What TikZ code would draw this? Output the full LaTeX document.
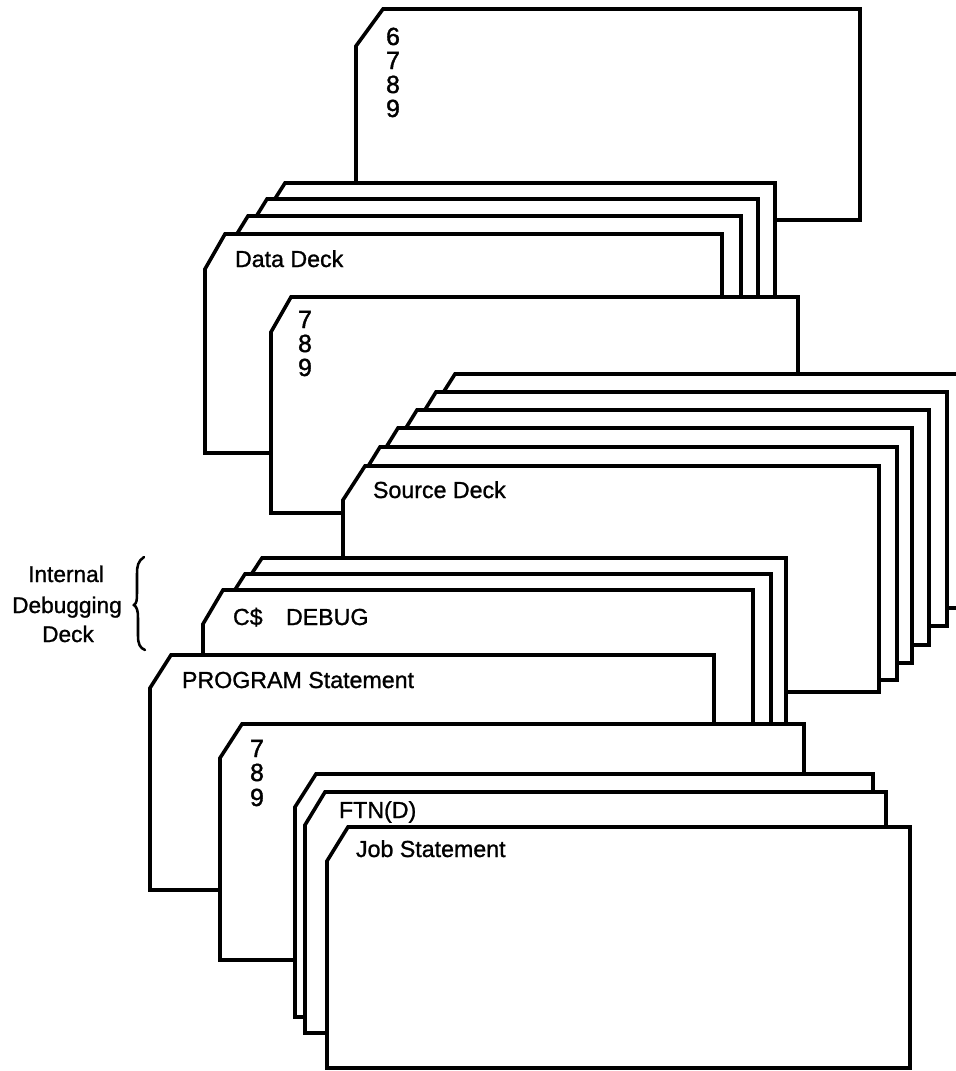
\documentclass[tikz,border=0pt]{standalone}
\usepackage{fontspec}
\setmainfont{Liberation Sans}
\newfontfamily\cardfont[FakeBold=1.1]{Liberation Sans}
\newfontfamily\digitfont[FakeBold=1.6]{Liberation Sans}
\newcommand{\cardshape}[6]{% left, corner x, cut y, top, right, bottom
  \filldraw[cardbox] (#1,#6) -- (#1,#3) -- (#2,#4) -- (#5,#4) -- (#5,#6) -- cycle;}
\tikzset{
  cardbox/.style={draw=black, fill=white, line width=2.7pt, line join=miter},
  cardtext/.style={anchor=base west, inner sep=0pt, outer sep=0pt, font=\cardfont\fontsize{17.4pt}{20pt}\selectfont, text=black},
  sidetext/.style={anchor=base, inner sep=0pt, outer sep=0pt, font=\cardfont\fontsize{17pt}{20pt}\selectfont, text=black},
  digit/.style={anchor=base, inner sep=0pt, outer sep=0pt, font=\digitfont\fontsize{18.6pt}{20pt}\selectfont, text=black},
}
\begin{document}
\begin{tikzpicture}[x=0.75pt,y=-0.75pt]
\path[use as bounding box] (0,0) rectangle (956,1071);
\clip (0,0) rectangle (956,1071);
% top job card
\cardshape{356}{383}{46}{9}{860}{220}
% data deck
\cardshape{264}{285}{216}{183}{775}{400}
\cardshape{246}{267}{233}{199}{758}{400}
\cardshape{227}{248}{250}{216}{741}{400}
\cardshape{205}{225}{269}{234}{722}{453}
\cardshape{271}{291}{332}{297}{798}{513}
% source deck
\cardshape{434}{455}{407}{374}{990}{608}
\cardshape{415}{436}{426}{392}{947}{626}
\cardshape{396}{417}{444}{410}{929}{645}
\cardshape{377}{398}{462}{428}{912}{663}
\cardshape{359}{380}{481}{447}{897}{680}
\cardshape{343}{365}{500}{466}{879}{692}
% debugging deck
\cardshape{241}{262}{590}{558}{786}{740}
\cardshape{224}{245}{607}{574}{771}{740}
\cardshape{203}{223}{624}{590}{753}{740}
\cardshape{150}{171}{688}{655}{714}{890}
\cardshape{220}{242}{758}{724}{804}{960}
\cardshape{295}{316}{807}{774}{873}{1017}
\cardshape{305}{325}{825}{792}{886}{1033}
\cardshape{327}{348}{861}{827}{910}{1068}
% brace
\draw[line width=1.9pt, line cap=round] (144,557)
  .. controls (138,561) and (137,566) .. (137,574)
  -- (137,592)
  .. controls (137,599) and (137,603) .. (134,605)
  .. controls (137,607) and (138,611) .. (138,618)
  -- (138,636)
  .. controls (138,644) and (140,648) .. (145,650);
% texts
\node[digit] (d6) at (393,45) {6};
\node[digit] (d7) at (393,69) {7};
\node[digit] (d8) at (393,93) {8};
\node[digit] (d9) at (393,117) {9};
\node[cardtext] (data) at (235,267) {Data Deck};
\node[digit] (b7) at (305,328) {7};
\node[digit] (b8) at (305,352) {8};
\node[digit] (b9) at (305,376) {9};
\node[cardtext] (source) at (373,498) {Source Deck};
\node[sidetext] (internal) at (66,582) {Internal};
\node[sidetext] (debugging) at (67,613) {Debugging};
\node[sidetext] (deck) at (68,642) {Deck};
\node[cardtext] (cd) at (233,625) {C\$};
\node[cardtext] (debug) at (286,625) {DEBUG};
\node[cardtext] (program) at (182,688) {PROGRAM Statement};
\node[digit] (c7) at (257,757) {7};
\node[digit] (c8) at (257,781) {8};
\node[digit] (c9) at (257,806) {9};
\node[cardtext] (ftn) at (339,818) {FTN(D)};
\node[cardtext] (job) at (356,857) {Job Statement};
\end{tikzpicture}
\end{document}
